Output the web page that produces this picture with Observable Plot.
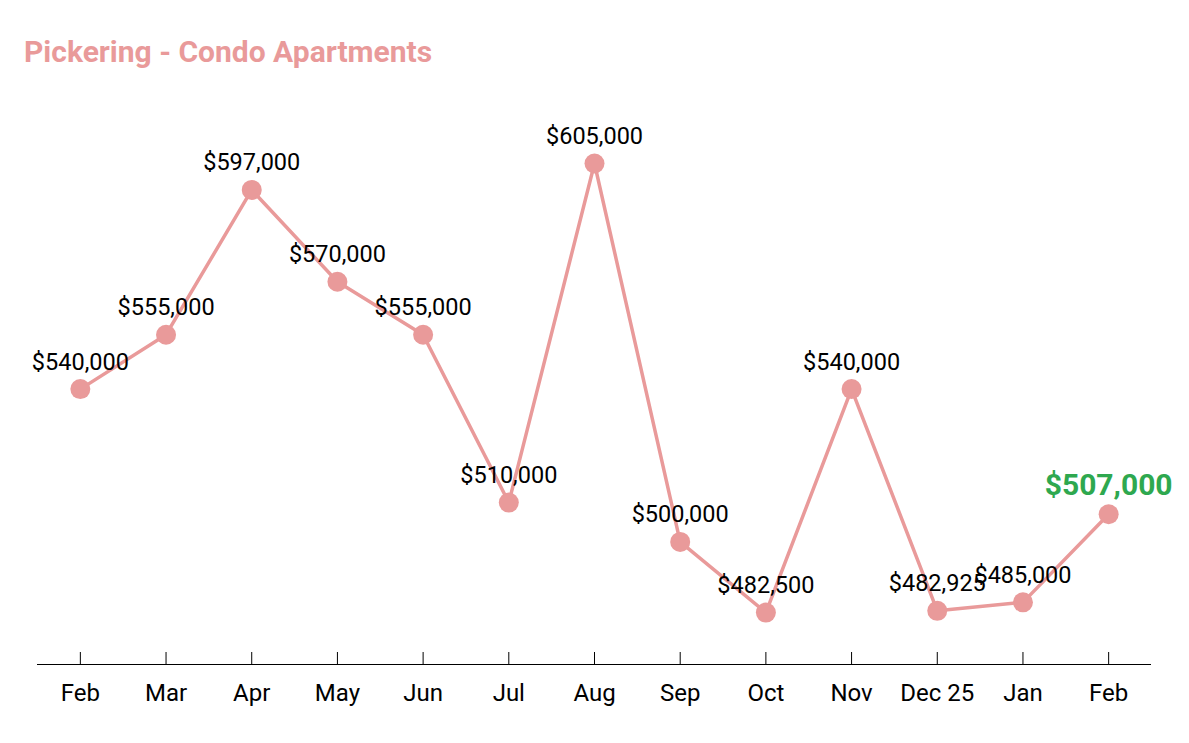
<!DOCTYPE html>
<html>
<head>
<meta charset="utf-8">
<script src="https://cdn.jsdelivr.net/npm/d3@7"></script>
<script src="https://cdn.jsdelivr.net/npm/@observablehq/plot@0.6"></script>
<style>
  html, body { margin: 0; padding: 0; background: #fff; }
  body { width: 1189px; height: 743px; overflow: hidden; font-family: Roboto, sans-serif; }
  #title { height: 90px; box-sizing: border-box; padding: 37px 0 0 24px; font-size: 30px; line-height: 1; font-weight: 700; color: #E99A9A; }
  #chart svg { display: block; }
</style>
</head>
<body>
<div id="title">Pickering - Condo Apartments</div>
<div id="chart"></div>
<script>
const months = ["Feb", "Mar", "Apr", "May", "Jun", "Jul", "Aug", "Sep", "Oct", "Nov", "Dec 25", "Jan", "Feb"];
const prices = [540000, 555000, 597000, 570000, 555000, 510000, 605000, 500000, 482500, 540000, 482925, 485000, 507000];
const yDomain = [470050, 605000];

const data = prices.map((v, i) => ({i, month: months[i], price: v}));
const last = data.slice(-1);
const rest = data.slice(0, -1);
const fmt = v => "$" + d3.format(",")(v);
const salmon = "#E99A9A";

const chart = Plot.plot({
  width: 1189,
  height: 653,
  marginLeft: 37,
  marginRight: 38,
  marginTop: 73,
  marginBottom: 79,
  style: {fontFamily: "Roboto, sans-serif", background: "white"},
  x: {type: "point", domain: data.map(d => d.i), padding: 0.5, round: false, axis: null, label: null},
  y: {type: "log", domain: yDomain, axis: null, label: null},
  marks: [
    Plot.ruleY([yDomain[0]], {stroke: "#000", strokeWidth: 1}),
    Plot.axisX({tickSize: -12, tickFormat: () => "", stroke: "#000", label: null}),
    Plot.axisX({tickSize: 0, tickPadding: 19, tickFormat: i => months[i], fontSize: 24, fill: "#000", label: null}),
    Plot.line(data, {x: "i", y: "price", stroke: salmon, strokeWidth: 3.5}),
    Plot.dot(data, {x: "i", y: "price", r: 10, fill: salmon}),
    Plot.text(rest, {x: "i", y: "price", text: d => fmt(d.price), dy: -27, fontSize: 23.5, fill: "#000"}),
    Plot.text(last, {x: "i", y: "price", text: d => fmt(d.price), dy: -29, fontSize: 30, fontWeight: "bold", fill: "#2EA84F"})
  ]
});
document.getElementById("chart").appendChild(chart);
</script>
</body>
</html>
